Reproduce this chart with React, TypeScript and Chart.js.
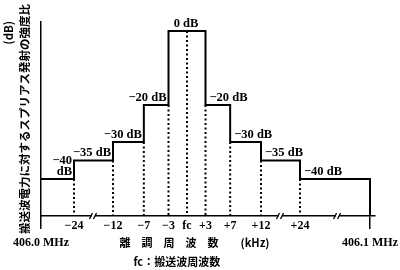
import React, { useEffect, useRef } from 'react';
import { Chart, registerables } from 'chart.js';

Chart.register(...registerables);

// ---- data ----
const boundariesKHz = [-24, -12, -7, -3, 3, 7, 12, 24];
const levelsDb = [-40, -35, -30, -20, 0, -20, -30, -35, -40];
const levelLabels = [['−40', 'dB'], ['−35 dB'], ['−30 dB'], ['−20 dB'], ['0 dB'], ['−20 dB'], ['−30 dB'], ['−35 dB'], ['−40 dB']];
const tickKHz = [-24, -12, -7, -3, 0, 3, 7, 12, 24];
const tickLabels = ['−24', '−12', '−7', '−3', 'fc', '+3', '+7', '+12', '+24'];
const bandEdgeLabels = ['406.0 MHz', '406.1 MHz'];
const bandEdgeKHz = [-35, 65];
const axisBreaksKHz = [-18, 18, 46];
const floorDb = -50;
const topDb = 2.4;
const yTitle = '搬送波電力に対するスプリアス発射の強度比';
const yUnit = '(dB)';
const xTitle = '離　調　周　波　数　　(kHz)';
const xNote = 'fc：搬送波周波数';

// broken (schematic) frequency axis: kHz anchors -> axis units
const anchorKHz = [-35, -24, -12, 0, 12, 24, 65];
const anchorUnits = [-146, -113, -74, 0, 74, 113, 183];

function axisPos(k: number): number {
  const n = anchorKHz.length;
  for (let i = 0; i < n - 1; i++) {
    if (k <= anchorKHz[i + 1] || i === n - 2) {
      const t = (k - anchorKHz[i]) / (anchorKHz[i + 1] - anchorKHz[i]);
      return anchorUnits[i] + t * (anchorUnits[i + 1] - anchorUnits[i]);
    }
  }
  return 0;
}

const SERIF = '"Liberation Serif", "Times New Roman", serif';
const CJK = '"Noto Sans CJK JP", "Noto Sans", sans-serif';

export default function App() {
  const ref = useRef<HTMLCanvasElement | null>(null);

  useEffect(() => {
    if (!ref.current) return;
    const edgeL = bandEdgeKHz[0];
    const edgeR = bandEdgeKHz[1];

    const stepData: { x: number; y: number }[] = [{ x: axisPos(edgeL), y: levelsDb[0] }];
    boundariesKHz.forEach((b, i) => stepData.push({ x: axisPos(b), y: levelsDb[i + 1] }));
    stepData.push({ x: axisPos(edgeR), y: levelsDb[levelsDb.length - 1] });
    stepData.push({ x: axisPos(edgeR), y: floorDb });

    const dotData: { x: number; y: number | null }[] = [];
    const dotLines: { k: number; top: number }[] = boundariesKHz.map((b, i) => ({
      k: b,
      top: Math.min(levelsDb[i], levelsDb[i + 1]),
    }));
    dotLines.push({ k: 0, top: levelsDb[4] });
    dotLines.forEach((d) => {
      dotData.push({ x: axisPos(d.k), y: d.top });
      dotData.push({ x: axisPos(d.k), y: floorDb });
      dotData.push({ x: axisPos(d.k), y: null });
    });

    const tickPositions = [axisPos(edgeL), ...tickKHz.map(axisPos), axisPos(edgeR)];
    const allTickLabels: (string | string[])[] = [['', bandEdgeLabels[0]], ...tickLabels, ['', bandEdgeLabels[1]]];
    const lastTick = tickPositions.length - 1;

    const annotations = {
      id: 'annotations',
      afterDatasetsDraw(chart: any) {
        const { ctx, scales } = chart;
        const xs = scales.x;
        const ys = scales.y;
        ctx.save();
        ctx.fillStyle = '#000';
        ctx.font = `bold 12.5px ${SERIF}`;
        ctx.textBaseline = 'middle';
        levelsDb.forEach((lv, i) => {
          const start = i === 0 ? edgeL : boundariesKHz[i - 1];
          const end = i === levelsDb.length - 1 ? edgeR : boundariesKHz[i];
          const yLine = ys.getPixelForValue(lv);
          let x: number;
          if (i < 4) {
            ctx.textAlign = 'right';
            x = xs.getPixelForValue(axisPos(end)) - 2;
          } else if (i === 4) {
            ctx.textAlign = 'center';
            x = xs.getPixelForValue(axisPos(0)) - 1;
          } else {
            ctx.textAlign = 'left';
            x = xs.getPixelForValue(axisPos(start)) + 4;
          }
          const lines = levelLabels[i];
          lines.forEach((t, j) => {
            const y = yLine - 7.5 - (lines.length - 1 - j) * 11;
            ctx.fillText(t, x, y);
          });
        });
        // axis break marks
        const yb = xs.top;
        axisBreaksKHz.forEach((k) => {
          const xb = xs.getPixelForValue(axisPos(k));
          ctx.fillStyle = '#fff';
          ctx.fillRect(xb - 1.5, yb - 2, 3, 4);
          ctx.strokeStyle = '#000';
          ctx.lineWidth = 1.3;
          ctx.beginPath();
          ctx.moveTo(xb - 4, yb + 3);
          ctx.lineTo(xb - 1, yb - 3);
          ctx.moveTo(xb, yb + 3);
          ctx.lineTo(xb + 3, yb - 3);
          ctx.stroke();
        });
        ctx.restore();
      },
    };

    const chart = new Chart(ref.current, {
      type: 'line',
      data: {
        datasets: [
          {
            data: stepData as any,
            stepped: true,
            borderColor: '#000',
            borderWidth: 2,
            pointRadius: 0,
            fill: false,
            borderJoinStyle: 'miter',
          },
          {
            data: dotData as any,
            borderColor: '#000',
            borderWidth: 2,
            borderDash: [2, 2.5],
            pointRadius: 0,
            fill: false,
            spanGaps: false,
          },
        ],
      },
      options: {
        animation: false,
        responsive: false,
        devicePixelRatio: 1,
        layout: { padding: { top: 22, right: 25, left: 0, bottom: 0 } },
        plugins: { legend: { display: false }, tooltip: { enabled: false } },
        scales: {
          x: {
            type: 'linear',
            min: axisPos(edgeL),
            max: axisPos(edgeR) + 5,
            border: { display: true, color: '#000', width: 1.5 },
            grid: {
              display: true,
              drawOnChartArea: false,
              drawTicks: true,
              tickLength: 13,
              lineWidth: 1.5,
              color: (c: any) => (c.index === 0 || c.index === lastTick ? '#000' : 'rgba(0,0,0,0)'),
            },
            afterBuildTicks: (s: any) => {
              s.ticks = tickPositions.map((v) => ({ value: v }));
            },
            afterFit: (s: any) => {
              s.height = 54;
              s.paddingLeft = 0;
              s.paddingRight = 0;
            },
            ticks: {
              autoSkip: false,
              maxRotation: 0,
              minRotation: 0,
              padding: -11.5,
              color: '#000',
              font: { family: SERIF, size: 12, weight: 'bold', lineHeight: 17 / 12 },
              callback: (_v: any, i: number) => allTickLabels[i],
            },
            title: {
              display: true,
              text: [xTitle + '　　  ', xNote + '　　　　　   '],
              color: '#000',
              font: { family: CJK, size: 11, weight: 'bold', lineHeight: 18.5 / 11 },
              padding: { top: 0, bottom: -1 },
            },
          },
          y: {
            type: 'linear',
            min: floorDb,
            max: topDb,
            border: { display: true, color: '#000', width: 1.5 },
            grid: { display: false },
            ticks: { display: false },
            afterFit: (s: any) => {
              s.width = 41;
            },
            title: {
              display: true,
              text: ['　'.repeat(15) + yUnit, yTitle],
              color: '#000',
              font: { family: CJK, size: 11.5, weight: 'bold', lineHeight: 16 / 11.5 },
              padding: { top: 1, bottom: 0 },
            },
          },
        },
      },
      plugins: [annotations],
    } as any);

    return () => chart.destroy();
  }, []);

  return (
    <div style={{ position: 'fixed', left: 0, top: 0, width: 400, height: 270, background: '#fff' }}>
      <canvas ref={ref} width={400} height={270} style={{ display: 'block', width: 400, height: 270 }} />
    </div>
  );
}
